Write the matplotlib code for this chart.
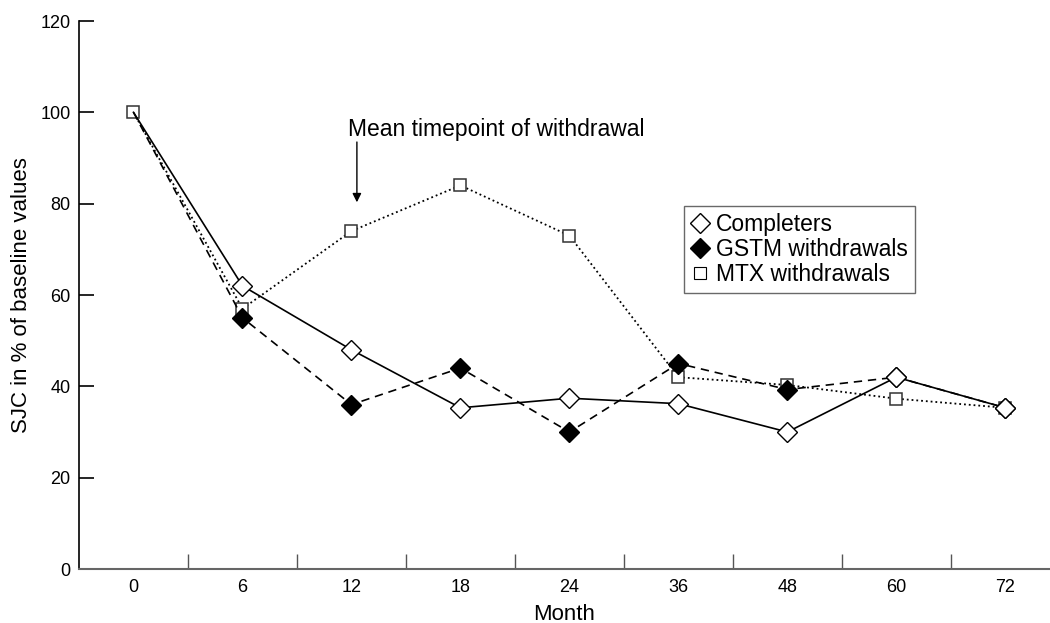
import matplotlib.pyplot as plt
from matplotlib.lines import Line2D

plt.rcParams['font.family'] = ['Liberation Sans', 'DejaVu Sans']

months = ['0', '6', '12', '18', '24', '36', '48', '60', '72']
completers = [100, 62, 48, 35.3, 37.4, 36.2, 30, 42, 35.3]
gstm = [100, 55, 36, 44, 30, 45, 39.3, 42, 35.3]
mtx = [100, 57, 74, 84, 73, 42, 40.3, 37.3, 35.3]

fig = plt.figure(figsize=(10.5, 6.23), dpi=100)
ax = fig.add_axes([79 / 1050, 54 / 623, 1 - 79 / 1050, 548 / 623])

x = list(range(len(months)))
# at month 0 only the square is visible
ax.plot(x, mtx, linestyle=':', color='black', linewidth=1.3, marker='s',
        markersize=9, markerfacecolor='white', markeredgecolor='#333333',
        markeredgewidth=1.1, zorder=2)
ax.plot(x, gstm, linestyle=(0, (5, 3.5)), color='black', linewidth=1.2, marker='D',
        markersize=10, markerfacecolor='black', markeredgecolor='black',
        markevery=list(range(1, 9)), zorder=3)
ax.plot(x, completers, linestyle='-', color='black', linewidth=1.2, marker='D',
        markersize=10.5, markerfacecolor='white', markeredgecolor='black',
        markeredgewidth=1.0, markevery=list(range(1, 9)), zorder=4)

ax.set_xlim(-0.5, 8.41)
ax.set_ylim(0, 120)

ax.set_yticks(range(0, 121, 20))
ax.tick_params(axis='y', direction='in', length=11, width=1.2, labelsize=13, pad=6)

ax.set_xticks([i + 0.5 for i in range(8)])
ax.set_xticklabels([])
ax.tick_params(axis='x', which='major', direction='in', length=11, width=1.0, color='#555555')
ax.set_xticks(x, minor=True)
ax.set_xticklabels(months, minor=True)
ax.tick_params(axis='x', which='minor', length=0, labelsize=13, pad=7)

for s in ['top', 'right']:
    ax.spines[s].set_visible(False)
ax.spines['left'].set_linewidth(1.2)
ax.spines['bottom'].set_color('#666666')
ax.spines['bottom'].set_linewidth(1.5)

ax.set_xlabel('Month', fontsize=16, labelpad=6)
ax.set_ylabel('SJC in % of baseline values', fontsize=16, labelpad=6)

ax.annotate('', xy=(2.05, 80.3), xytext=(2.05, 93.5),
            arrowprops=dict(arrowstyle='-|>', color='black', lw=1.0,
                            mutation_scale=13, shrinkA=0, shrinkB=0))
ax.text(1.97, 96.3, 'Mean timepoint of withdrawal', fontsize=16.5, va='center', ha='left')

handles = [
    Line2D([], [], linestyle='none', marker='D', markersize=10,
           markerfacecolor='white', markeredgecolor='black'),
    Line2D([], [], linestyle='none', marker='D', markersize=10,
           markerfacecolor='black', markeredgecolor='black'),
    Line2D([], [], linestyle='none', marker='s', markersize=8,
           markerfacecolor='white', markeredgecolor='black', markeredgewidth=0.8),
]
leg = ax.legend(handles, ['Completers', 'GSTM withdrawals', 'MTX withdrawals'],
                loc='upper left', bbox_to_anchor=((684 - 79) / 971, (569 - 206) / 548),
                fontsize=16.5, frameon=True, fancybox=False, edgecolor='#444444',
                handlelength=0.8, handletextpad=0.3, labelspacing=0.1,
                borderpad=0.3, borderaxespad=0)
leg.get_frame().set_linewidth(1.0)

fig.savefig('out.png', dpi=100)
